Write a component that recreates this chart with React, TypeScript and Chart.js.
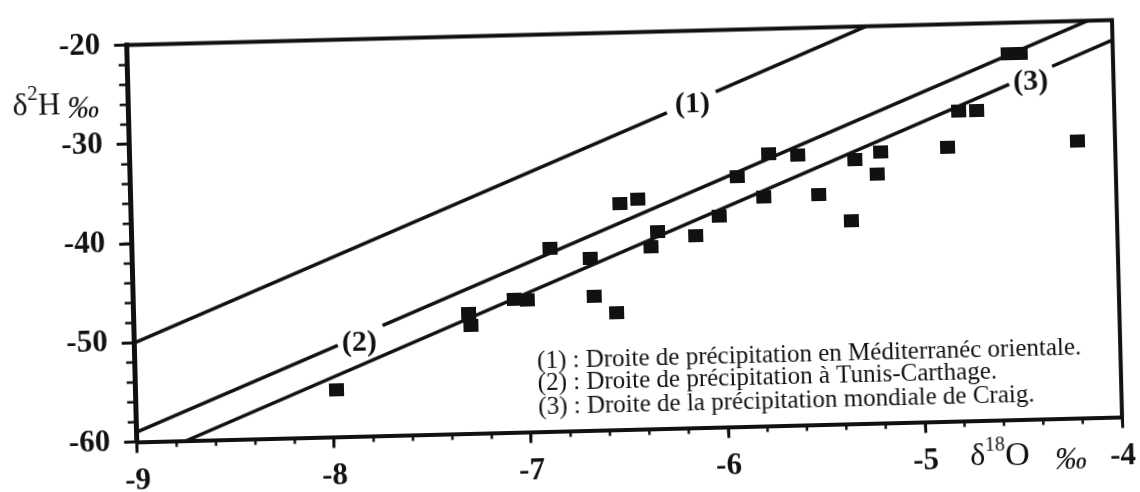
import React, { useEffect, useRef } from "react";
import { Chart, registerables } from "chart.js";

Chart.register(...registerables);

// δ18O (x) and δ2H (y) of the samples
const sampleX = [-7.98, -7.30, -7.29, -7.07, -7.00, -6.88, -6.68, -6.66, -6.55, -6.52, -6.43, -6.37, -6.33, -6.14, -6.02, -5.92, -5.79, -5.76, -5.61, -5.51, -5.35, -5.32, -5.21, -5.19, -4.85, -4.79, -4.70, -4.53, -4.47, -4.19];
const sampleY = [-55.3, -47.9, -49.1, -46.6, -46.7, -41.6, -42.7, -46.5, -48.2, -37.2, -36.8, -41.7, -40.1, -40.6, -38.7, -34.8, -36.9, -32.6, -32.8, -36.8, -39.5, -33.4, -34.9, -32.7, -32.4, -28.8, -28.8, -23.1, -23.1, -32.1];

// Reference lines: two segments each (gap where the label sits)
const line1X = [-9, -6.27, -6.02, -5.25];
const line1Y = [-50, -28.2, -26.2, -20];
const line2X = [-9, -7.97, -7.74, -4.125];
const line2Y = [-59, -50.8, -48.9, -20];
const line3X = [-8.75, -4.53, -4.31, -4];
const line3Y = [-60, -26.2, -24.5, -22];

const lineLabels = ["(1)", "(2)", "(3)"];
const lineLabelX = [-6.14, -7.86, -4.42];
const lineLabelY = [-27.4, -50.6, -26.0];

const legendLines = [
  "(1) : Droite de précipitation en Méditerranéc orientale.",
  "(2) : Droite de précipitation à Tunis-Carthage.",
  "(3) : Droite de la précipitation mondiale de Craig.",
];
const legendX = -6.96;
const legendY = [-52.95, -55.2, -57.55];

const xTicks = [-9, -8, -7, -6, -5, -4];
const yTicks = [-60, -50, -40, -30, -20];
const xMinorStep = 0.2;
const yMinorStep = 2;

const INK = "#111";
const SERIF = "'Liberation Serif', 'Times New Roman', serif";

function segData(xs: number[], ys: number[]) {
  return [
    { x: xs[0], y: ys[0] },
    { x: xs[1], y: ys[1] },
    { x: (xs[1] + xs[2]) / 2, y: null },
    { x: xs[2], y: ys[2] },
    { x: xs[3], y: ys[3] },
  ];
}

function drawRich(ctx: CanvasRenderingContext2D, parts: { t: string; size: number; dy: number; style?: string }[], x: number, y: number) {
  let cx = x;
  for (const p of parts) {
    ctx.font = `${p.style || ""} ${p.size}px ${SERIF}`;
    ctx.fillText(p.t, cx, y + p.dy);
    cx += ctx.measureText(p.t).width;
  }
}

const decor = {
  id: "decor",
  afterDraw(chart: any) {
    const { ctx, chartArea: a } = chart;
    const xs = chart.scales.x;
    const ys = chart.scales.y;
    ctx.save();
    ctx.strokeStyle = INK;
    ctx.fillStyle = INK;
    // top and right frame
    ctx.lineWidth = 4;
    ctx.beginPath();
    ctx.moveTo(a.left - 2, a.top);
    ctx.lineTo(a.right, a.top);
    ctx.lineTo(a.right, a.bottom);
    ctx.stroke();
    // minor ticks
    ctx.lineWidth = 2.5;
    ctx.beginPath();
    const nx = Math.round((xTicks[xTicks.length - 1] - xTicks[0]) / xMinorStep);
    for (let k = 0; k <= nx; k++) {
      const px = xs.getPixelForValue(xTicks[0] + k * xMinorStep);
      ctx.moveTo(px, a.bottom);
      ctx.lineTo(px, a.bottom + 6);
    }
    const ny = Math.round((yTicks[yTicks.length - 1] - yTicks[0]) / yMinorStep);
    for (let k = 0; k <= ny; k++) {
      const py = ys.getPixelForValue(yTicks[0] + k * yMinorStep);
      ctx.moveTo(a.left, py);
      ctx.lineTo(a.left - 9, py);
    }
    ctx.stroke();

    // line labels
    ctx.textAlign = "center";
    ctx.textBaseline = "middle";
    ctx.font = `bold 30px ${SERIF}`;
    lineLabels.forEach((t, i) => {
      ctx.fillText(t, xs.getPixelForValue(lineLabelX[i]), ys.getPixelForValue(lineLabelY[i]));
    });

    // legend text
    ctx.textAlign = "left";
    ctx.font = `25px ${SERIF}`;
    legendLines.forEach((t, i) => {
      ctx.fillText(t, xs.getPixelForValue(legendX), ys.getPixelForValue(legendY[i]));
    });

    // y title δ²H ‰
    drawRich(
      ctx,
      [
        { t: "δ", size: 32, dy: 0 },
        { t: "2", size: 21, dy: -12 },
        { t: "H", size: 31, dy: 0 },
      ],
      xs.getPixelForValue(-9.59),
      ys.getPixelForValue(-25.95)
    );
    drawRich(ctx, [{ t: "‰", size: 32, dy: 1, style: "italic" }], xs.getPixelForValue(-9.312), ys.getPixelForValue(-26.2));

    // x title δ18O ‰
    drawRich(
      ctx,
      [
        { t: "δ", size: 32, dy: 0 },
        { t: "18", size: 20, dy: -10 },
        { t: "O", size: 34, dy: 1 },
      ],
      xs.getPixelForValue(-4.776),
      ys.getPixelForValue(-63.6)
    );
    drawRich(ctx, [{ t: "‰", size: 32, dy: 0, style: "italic" }], xs.getPixelForValue(-4.346), ys.getPixelForValue(-64.2));
    ctx.restore();
  },
};

export default function App() {
  const ref = useRef<HTMLCanvasElement>(null);
  useEffect(() => {
    const sq = document.createElement("canvas");
    sq.width = 15;
    sq.height = 13;
    const sctx = sq.getContext("2d")!;
    sctx.fillStyle = INK;
    sctx.fillRect(0, 0, 15, 13);

    const lineDs = (xs: number[], ys: number[]) => ({
      type: "line" as const,
      data: segData(xs, ys),
      showLine: true,
      borderColor: INK,
      borderWidth: 3.5,
      pointRadius: 0,
      spanGaps: false,
      fill: false,
      tension: 0,
    });

    const chart = new Chart(ref.current!, {
      type: "scatter",
      data: {
        datasets: [
          lineDs(line1X, line1Y),
          lineDs(line2X, line2Y),
          lineDs(line3X, line3Y),
          {
            type: "scatter",
            data: sampleX.map((x, i) => ({ x, y: sampleY[i] })),
            pointStyle: sq,
            pointRadius: 8,
            showLine: false,
          } as any,
        ],
      },
      options: {
        responsive: false,
        animation: false,
        devicePixelRatio: 1,
        events: [],
        layout: { padding: { top: 25.5, right: 22.9, left: 0, bottom: 0 } },
        plugins: { legend: { display: false }, tooltip: { enabled: false } },
        scales: {
          x: {
            type: "linear",
            min: xTicks[0],
            max: xTicks[xTicks.length - 1],
            afterBuildTicks: (s: any) => {
              s.ticks = xTicks.map((v) => ({ value: v }));
            },
            afterFit: (s: any) => {
              s.height = 62.5;
            },
            ticks: {
              autoSkip: false,
              maxRotation: 0,
              padding: 10,
              color: INK,
              font: { family: SERIF, size: 31, weight: "bold" },
              callback: (v: any) => String(v),
            },
            grid: { drawOnChartArea: false, drawTicks: true, tickLength: 11, color: INK, lineWidth: 3 },
            border: { display: true, color: INK, width: 4 },
          },
          y: {
            type: "linear",
            min: yTicks[0],
            max: yTicks[yTicks.length - 1],
            afterBuildTicks: (s: any) => {
              s.ticks = yTicks.map((v) => ({ value: v }));
            },
            afterFit: (s: any) => {
              s.width = 131.9;
            },
            ticks: {
              autoSkip: false,
              padding: 14,
              color: INK,
              font: { family: SERIF, size: 31, weight: "bold" },
              callback: (v: any) => String(v),
            },
            grid: { drawOnChartArea: false, drawTicks: true, tickLength: 13, color: INK, lineWidth: 3 },
            border: { display: true, color: INK, width: 5 },
          },
        },
      },
      plugins: [decor],
    } as any);
    return () => chart.destroy();
  }, []);

  return (
    <div style={{ position: "absolute", left: 0, top: 0, width: 1140, height: 492, overflow: "hidden", background: "#fff" }}>
      <canvas
        ref={ref}
        width={1140}
        height={492}
        style={{
          position: "absolute",
          left: 0,
          top: 0,
          width: 1140,
          height: 492,
          transform: "rotate(-1.45deg)",
          transformOrigin: "624.5px 227.5px",
        }}
      />
    </div>
  );
}
